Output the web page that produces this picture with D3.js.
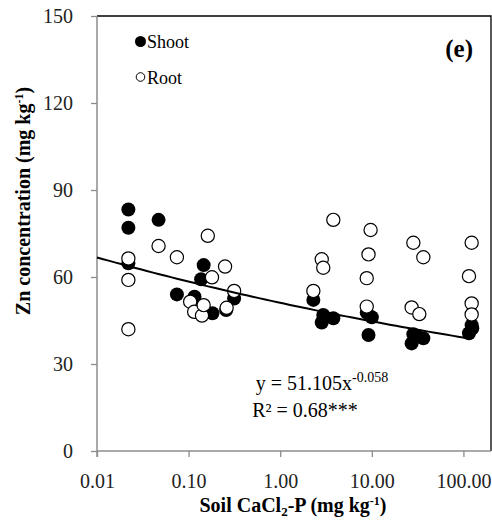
<!DOCTYPE html>
<html>
<head>
<meta charset="utf-8">
<script src="https://cdn.jsdelivr.net/npm/d3@7"></script>
<style>
  body { margin: 0; background: #fff; }
  text { font-family: "Liberation Serif", "Times New Roman", serif; }
</style>
</head>
<body>
<div id="container"></div>
<script>
/* CONSTANTS AND GLOBALS */
const width = 492;
const height = 521;
const margin = { top: 16, right: 1, bottom: 70, left: 97 };

/* DATA */
const shootP = [0.022, 0.022, 0.022, 0.047, 0.0745, 0.116, 0.137, 0.146, 0.182, 0.257, 0.314,
  2.30, 2.84, 2.95, 3.8, 8.8, 10, 9.2, 28.4, 36.5, 27.2, 31, 123, 115, 125];
const shootZn = [83.3, 77.0, 64.7, 79.7, 54.0, 53.2, 59.2, 64.1, 47.5, 48.6, 52.6,
  52.1, 44.3, 46.9, 45.8, 47.7, 46.1, 40.0, 40.3, 38.9, 37.1, 39.7, 43.4, 40.6, 42.3];

const rootP = [0.022, 0.022, 0.022, 0.047, 0.0745, 0.104, 0.115, 0.14, 0.146, 0.162, 0.18, 0.25, 0.26, 0.314,
  2.30, 2.84, 2.95, 3.8, 9.7, 9.2, 8.8, 8.8, 28.4, 36.5, 27.2, 33, 123, 115, 123, 123];
const rootZn = [66.4, 59.0, 42.0, 70.7, 66.8, 51.5, 48.0, 46.7, 50.3, 74.2, 59.9, 63.6, 49.4, 55.2,
  55.2, 66.1, 63.2, 79.7, 76.2, 67.8, 59.6, 49.8, 71.8, 66.8, 49.5, 47.2, 71.8, 60.3, 50.9, 47.1];

const xTicks = [0.01, 0.1, 1, 10, 100];
const yTicks = [0, 30, 60, 90, 120, 150];

// power fit y = a * x^b
const fitA = 51.105;
const fitB = -0.058;
const fitRange = [0.01, 120];

const shoot = shootP.map((p, i) => ({ p: p, zn: shootZn[i] }));
const root = rootP.map((p, i) => ({ p: p, zn: rootZn[i] }));

/* SCALES */
const xScale = d3.scaleLog()
  .domain([0.01, 200])
  .range([margin.left, width - margin.right]);

const yScale = d3.scaleLinear()
  .domain([0, 150])
  .range([height - margin.bottom, margin.top]);

/* SVG ELEMENT */
const svg = d3.select("#container")
  .append("svg")
  .attr("width", width)
  .attr("height", height);

/* FRAME (top and right) */
svg.append("path")
  .attr("d", `M${margin.left},${margin.top}H${width - margin.right}V${height - margin.bottom}`)
  .attr("fill", "none")
  .attr("stroke", "#000")
  .attr("stroke-width", 1.3);

/* AXES */
const xAxis = d3.axisBottom(xScale)
  .tickValues(xTicks)
  .tickFormat(d3.format(".2f"))
  .tickSize(6);

const yAxis = d3.axisLeft(yScale)
  .tickValues(yTicks)
  .tickFormat(d3.format("d"))
  .tickSize(6);

const gx = svg.append("g")
  .attr("transform", `translate(0, ${height - margin.bottom})`)
  .call(xAxis);

const gy = svg.append("g")
  .attr("transform", `translate(${margin.left}, 0)`)
  .call(yAxis);

[gx, gy].forEach(g => {
  g.select(".domain").attr("stroke", "#8c8c8c").attr("stroke-width", 1.5);
  g.selectAll(".tick line").attr("stroke", "#8c8c8c").attr("stroke-width", 1.3);
  g.selectAll(".tick text")
    .attr("fill", "#222")
    .style("font-size", "20px")
    .style("font-family", "'Liberation Serif', serif");
});
gx.select(".domain").attr("d", `M${margin.left},0H${width - margin.right}`);
gx.selectAll(".tick text").attr("dy", "0.71em").attr("y", 23);
gy.select(".domain").attr("d", `M0,${yScale(0) + 6}V${margin.top}`);
gy.selectAll(".tick text").attr("x", -24);

/* FIT LINE */
const fitPts = d3.range(0, 61).map(i => {
  const lx = Math.log10(fitRange[0]) + i / 60 * (Math.log10(fitRange[1]) - Math.log10(fitRange[0]));
  const x = Math.pow(10, lx);
  return { p: x, zn: fitA * Math.pow(x, fitB) };
});

/* PLOT DATA */
svg.selectAll("circle.shoot")
  .data(shoot)
  .enter()
  .append("circle")
  .attr("class", "shoot")
  .attr("cx", d => xScale(d.p))
  .attr("cy", d => yScale(d.zn))
  .attr("r", 7)
  .attr("fill", "#000");

svg.selectAll("circle.root")
  .data(root)
  .enter()
  .append("circle")
  .attr("class", "root")
  .attr("cx", d => xScale(d.p))
  .attr("cy", d => yScale(d.zn))
  .attr("r", 6.6)
  .attr("fill", "#fff")
  .attr("stroke", "#000")
  .attr("stroke-width", 1.2);

svg.append("path")
  .datum(fitPts)
  .attr("d", d3.line().x(d => xScale(d.p)).y(d => yScale(d.zn)))
  .attr("fill", "none")
  .attr("stroke", "#000")
  .attr("stroke-width", 2);

/* LEGEND */
svg.append("circle").attr("cx", 140.5).attr("cy", 41.5).attr("r", 5.5).attr("fill", "#000");
svg.append("text").attr("x", 147).attr("y", 48).style("font-size", "18px").text("Shoot");
svg.append("circle").attr("cx", 140.5).attr("cy", 77).attr("r", 4.3)
  .attr("fill", "#fff").attr("stroke", "#000").attr("stroke-width", 1);
svg.append("text").attr("x", 147).attr("y", 83.5).style("font-size", "18px").text("Root");

/* PANEL LABEL */
svg.append("text")
  .attr("x", 473)
  .attr("y", 57)
  .attr("text-anchor", "end")
  .style("font-size", "25px")
  .style("font-weight", "bold")
  .text("(e)");

/* EQUATION */
const eq = svg.append("text")
  .attr("x", 322)
  .attr("y", 390)
  .attr("text-anchor", "middle")
  .style("font-size", "20px");
eq.append("tspan").text("y = 51.105x");
eq.append("tspan").attr("dy", -8).style("font-size", "14px").text("-0.058");

svg.append("text")
  .attr("x", 305)
  .attr("y", 417)
  .attr("text-anchor", "middle")
  .style("font-size", "20px")
  .text("R² = 0.68***");

/* AXIS LABELS */
const xl = svg.append("text")
  .attr("x", 293)
  .attr("y", 512)
  .attr("text-anchor", "middle")
  .style("font-size", "20px")
  .style("font-weight", "bold");
xl.append("tspan").text("Soil CaCl");
xl.append("tspan").attr("dy", 4).style("font-size", "13px").text("2");
xl.append("tspan").attr("dy", -4).text("-P (mg kg");
xl.append("tspan").attr("dy", -7).style("font-size", "12px").text("-1");
xl.append("tspan").attr("dy", 7).text(")");

const yl = svg.append("text")
  .attr("transform", "rotate(-90)")
  .attr("x", -201)
  .attr("y", 30)
  .attr("text-anchor", "middle")
  .style("font-size", "20px")
  .style("font-weight", "bold");
yl.append("tspan").text("Zn concentration (mg kg");
yl.append("tspan").attr("dy", -7).style("font-size", "12px").text("-1");
yl.append("tspan").attr("dy", 7).text(")");
</script>
</body>
</html>
